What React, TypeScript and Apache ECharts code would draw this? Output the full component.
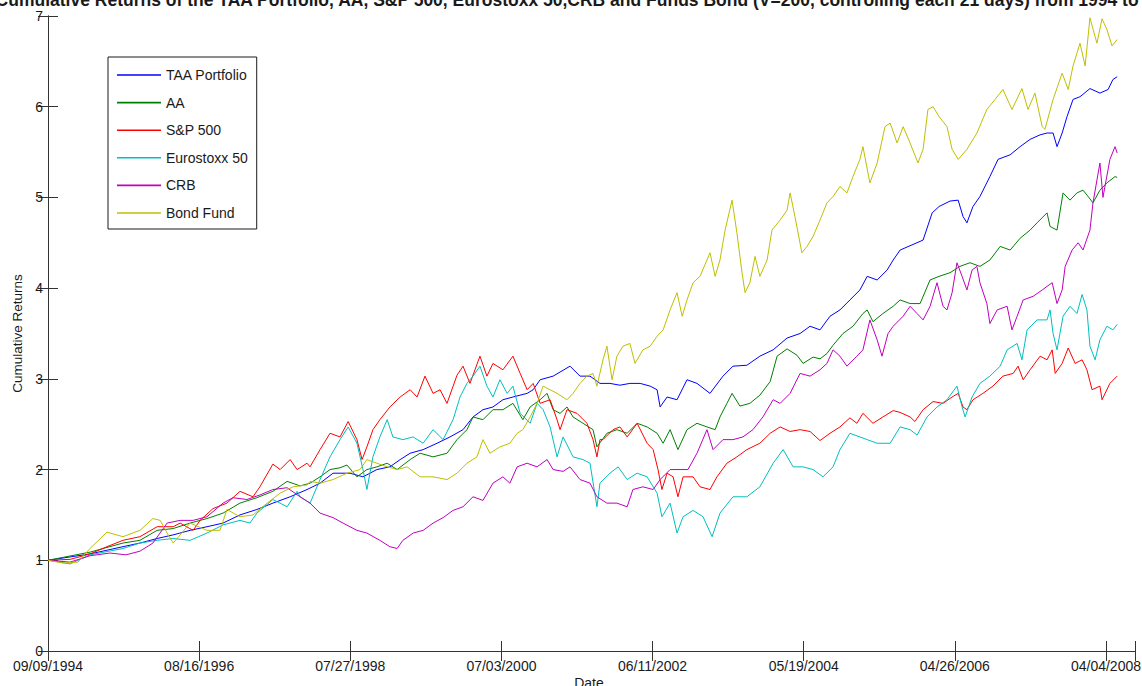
import React, { useEffect, useRef } from "react";
import * as echarts from "echarts";

// Trading-day index of each x tick and its date label
const TICK_STEP = 500;
const X_MAX = 3596;
const tickLabels = [
  "09/09/1994",
  "08/16/1996",
  "07/27/1998",
  "07/03/2000",
  "06/11/2002",
  "05/19/2004",
  "04/26/2006",
  "04/04/2008",
];

const seriesNames = ["TAA Portfolio", "AA", "S&P 500", "Eurostoxx 50", "CRB", "Bond Fund"];
const seriesColors = ["#0000ff", "#008000", "#ff0000", "#00bfbf", "#bf00bf", "#bfbf00"];

// [trading day, cumulative return]
const taaPortfolio = [
  [0, 1.0], [139, 1.07], [248, 1.15], [304, 1.19], [361, 1.24], [414, 1.28], [470, 1.33], [526, 1.37],
  [579, 1.41], [635, 1.5], [691, 1.56], [744, 1.63], [801, 1.7], [857, 1.78], [900, 1.85], [943, 1.96],
  [999, 1.96], [1042, 1.92], [1088, 2.0], [1131, 2.03], [1165, 2.11], [1198, 2.18], [1241, 2.22],
  [1287, 2.29], [1330, 2.36], [1373, 2.44], [1406, 2.58], [1439, 2.66], [1472, 2.69], [1505, 2.77],
  [1538, 2.8], [1585, 2.84], [1605, 2.88], [1628, 2.99], [1671, 3.03], [1727, 3.14], [1760, 3.03],
  [1793, 3.03], [1826, 2.95], [1859, 2.95], [1892, 2.93], [1925, 2.95], [1959, 2.95], [1992, 2.92],
  [2015, 2.88], [2025, 2.69], [2048, 2.8], [2081, 2.77], [2114, 2.99], [2147, 2.95], [2190, 2.84],
  [2233, 3.03], [2266, 3.14], [2312, 3.15], [2355, 3.25], [2399, 3.32], [2445, 3.45], [2488, 3.5],
  [2521, 3.58], [2554, 3.54], [2587, 3.69], [2620, 3.76], [2653, 3.87], [2686, 3.98], [2710, 4.13],
  [2743, 4.09], [2776, 4.2], [2796, 4.31], [2819, 4.42], [2895, 4.53], [2925, 4.83], [2948, 4.9],
  [2984, 4.96], [3011, 4.97], [3027, 4.79], [3040, 4.72], [3060, 4.9], [3083, 5.01], [3116, 5.23],
  [3143, 5.42], [3183, 5.47], [3216, 5.56], [3249, 5.64], [3282, 5.69], [3305, 5.71], [3325, 5.71],
  [3338, 5.56], [3355, 5.71], [3371, 5.89], [3391, 6.08], [3414, 6.11], [3447, 6.2], [3480, 6.15],
  [3507, 6.19], [3523, 6.3], [3537, 6.33],
];

const aa = [
  [0, 1.0], [139, 1.09], [248, 1.19], [304, 1.22], [361, 1.33], [414, 1.35], [470, 1.41], [526, 1.46],
  [579, 1.52], [635, 1.63], [691, 1.69], [744, 1.76], [791, 1.87], [834, 1.82], [867, 1.85], [900, 1.92],
  [933, 2.0], [966, 2.02], [989, 2.05], [1022, 1.92], [1055, 2.0], [1088, 2.03], [1122, 2.07],
  [1155, 2.0], [1198, 2.11], [1231, 2.18], [1274, 2.14], [1320, 2.18], [1353, 2.33], [1386, 2.44],
  [1406, 2.58], [1439, 2.55], [1472, 2.66], [1505, 2.66], [1538, 2.73], [1571, 2.55], [1595, 2.69],
  [1628, 2.77], [1651, 2.84], [1671, 2.66], [1694, 2.62], [1717, 2.69], [1737, 2.58], [1770, 2.51],
  [1803, 2.44], [1816, 2.25], [1849, 2.4], [1882, 2.44], [1916, 2.4], [1949, 2.51], [1982, 2.47],
  [2015, 2.4], [2035, 2.29], [2058, 2.44], [2084, 2.22], [2114, 2.44], [2147, 2.51], [2180, 2.47],
  [2207, 2.44], [2223, 2.58], [2246, 2.73], [2263, 2.84], [2289, 2.7], [2322, 2.73], [2355, 2.82],
  [2389, 2.97], [2412, 3.25], [2445, 3.33], [2478, 3.26], [2498, 3.17], [2531, 3.24], [2554, 3.22],
  [2577, 3.28], [2597, 3.37], [2630, 3.5], [2663, 3.58], [2696, 3.72], [2710, 3.76], [2729, 3.63],
  [2762, 3.72], [2796, 3.8], [2819, 3.87], [2852, 3.83], [2885, 3.83], [2918, 4.09], [2948, 4.13],
  [2984, 4.17], [3017, 4.24], [3050, 4.28], [3083, 4.24], [3116, 4.31], [3150, 4.46], [3183, 4.42],
  [3216, 4.55], [3249, 4.64], [3272, 4.72], [3305, 4.83], [3315, 4.68], [3338, 4.64], [3358, 5.05],
  [3381, 4.97], [3404, 5.05], [3424, 5.08], [3441, 5.01], [3457, 4.94], [3480, 5.08], [3503, 5.16],
  [3530, 5.23], [3537, 5.22],
];

const sp500 = [
  [0, 1.0], [73, 1.01], [139, 1.07], [195, 1.15], [248, 1.22], [304, 1.26], [361, 1.37], [414, 1.37],
  [437, 1.41], [480, 1.33], [503, 1.44], [546, 1.57], [592, 1.63], [635, 1.76], [678, 1.7], [701, 1.81],
  [744, 2.06], [768, 2.0], [801, 2.11], [824, 2.0], [857, 2.07], [867, 2.03], [900, 2.22], [933, 2.4],
  [966, 2.36], [993, 2.53], [1022, 2.33], [1039, 2.11], [1055, 2.25], [1075, 2.44], [1098, 2.55],
  [1131, 2.69], [1165, 2.8], [1198, 2.88], [1221, 2.8], [1247, 3.03], [1274, 2.84], [1297, 2.88],
  [1320, 2.73], [1353, 3.04], [1373, 3.14], [1396, 2.95], [1429, 3.25], [1452, 3.03], [1472, 3.17],
  [1505, 3.1], [1538, 3.25], [1562, 3.06], [1585, 2.88], [1605, 2.95], [1628, 2.73], [1661, 2.77],
  [1684, 2.55], [1694, 2.44], [1717, 2.66], [1750, 2.62], [1783, 2.51], [1803, 2.33], [1816, 2.14],
  [1826, 2.33], [1836, 2.33], [1869, 2.44], [1892, 2.47], [1916, 2.36], [1949, 2.51], [1982, 2.29],
  [2002, 2.22], [2018, 2.0], [2031, 1.78], [2048, 1.96], [2068, 1.92], [2084, 1.7], [2101, 1.92],
  [2134, 1.92], [2157, 1.81], [2190, 1.78], [2213, 1.92], [2246, 2.07], [2279, 2.14], [2312, 2.22],
  [2355, 2.29], [2389, 2.4], [2422, 2.47], [2455, 2.42], [2488, 2.44], [2521, 2.42], [2554, 2.32],
  [2587, 2.4], [2620, 2.47], [2653, 2.57], [2676, 2.51], [2696, 2.62], [2729, 2.51], [2762, 2.58],
  [2796, 2.65], [2819, 2.63], [2852, 2.58], [2868, 2.53], [2895, 2.66], [2928, 2.75], [2961, 2.73],
  [2991, 2.8], [3011, 2.84], [3027, 2.69], [3040, 2.66], [3060, 2.77], [3093, 2.84], [3126, 2.92],
  [3159, 3.03], [3193, 3.06], [3209, 3.14], [3226, 2.99], [3249, 3.1], [3282, 3.25], [3305, 3.21],
  [3322, 3.32], [3332, 3.06], [3355, 3.17], [3375, 3.34], [3398, 3.17], [3421, 3.21], [3437, 3.1],
  [3454, 2.88], [3480, 2.92], [3487, 2.77], [3513, 2.95], [3537, 3.03],
];

const eurostoxx50 = [
  [0, 1.0], [73, 0.96], [139, 1.06], [248, 1.13], [304, 1.19], [361, 1.22], [414, 1.24], [470, 1.22],
  [526, 1.3], [579, 1.39], [635, 1.44], [668, 1.41], [691, 1.52], [744, 1.67], [791, 1.59], [824, 1.76],
  [834, 1.7], [867, 1.63], [900, 1.89], [933, 2.14], [966, 2.33], [993, 2.47], [1022, 2.29],
  [1042, 2.0], [1055, 1.78], [1075, 2.14], [1098, 2.36], [1122, 2.55], [1141, 2.36], [1174, 2.33],
  [1208, 2.36], [1241, 2.29], [1274, 2.44], [1307, 2.33], [1340, 2.55], [1363, 2.8], [1386, 2.95],
  [1406, 3.03], [1429, 3.14], [1452, 2.92], [1472, 2.8], [1495, 2.99], [1519, 2.84], [1538, 2.92],
  [1562, 2.62], [1595, 2.51], [1618, 2.73], [1638, 2.66], [1661, 2.47], [1684, 2.14], [1704, 2.36],
  [1737, 2.14], [1770, 2.11], [1793, 2.07], [1816, 1.59], [1826, 1.85], [1859, 1.96], [1886, 2.03],
  [1916, 1.89], [1949, 1.96], [1982, 1.92], [2015, 1.74], [2031, 1.48], [2058, 1.63], [2081, 1.3],
  [2101, 1.48], [2134, 1.55], [2167, 1.48], [2197, 1.26], [2223, 1.52], [2266, 1.7], [2312, 1.7],
  [2355, 1.81], [2399, 2.07], [2432, 2.22], [2465, 2.03], [2498, 2.03], [2531, 2.0], [2564, 1.92],
  [2597, 2.03], [2620, 2.22], [2653, 2.4], [2710, 2.33], [2743, 2.29], [2786, 2.29], [2819, 2.47],
  [2852, 2.44], [2875, 2.38], [2908, 2.58], [2941, 2.69], [2974, 2.77], [3007, 2.92], [3024, 2.69],
  [3034, 2.58], [3057, 2.8], [3083, 2.95], [3116, 3.03], [3150, 3.14], [3173, 3.32], [3206, 3.39],
  [3222, 3.21], [3239, 3.54], [3272, 3.65], [3305, 3.65], [3315, 3.76], [3325, 3.5], [3338, 3.32],
  [3358, 3.69], [3381, 3.8], [3404, 3.72], [3421, 3.93], [3437, 3.76], [3447, 3.36], [3464, 3.21],
  [3480, 3.43], [3503, 3.58], [3523, 3.54], [3537, 3.6],
];

const crb = [
  [0, 1.0], [73, 0.98], [139, 1.05], [205, 1.08], [258, 1.06], [304, 1.1], [347, 1.19], [394, 1.41],
  [437, 1.44], [480, 1.44], [526, 1.48], [579, 1.63], [612, 1.69], [658, 1.67], [701, 1.72],
  [744, 1.78], [791, 1.8], [834, 1.7], [867, 1.63], [900, 1.52], [943, 1.47], [976, 1.41], [1022, 1.33],
  [1055, 1.3], [1098, 1.22], [1131, 1.15], [1155, 1.13], [1174, 1.22], [1208, 1.3], [1241, 1.33],
  [1274, 1.41], [1307, 1.47], [1340, 1.55], [1373, 1.59], [1406, 1.7], [1439, 1.66], [1472, 1.85],
  [1505, 1.92], [1528, 1.85], [1552, 2.03], [1585, 2.07], [1618, 2.03], [1651, 2.11], [1671, 2.0],
  [1704, 1.98], [1727, 2.03], [1760, 1.89], [1793, 1.85], [1816, 1.7], [1849, 1.63], [1882, 1.63],
  [1916, 1.59], [1935, 1.78], [1968, 1.81], [2002, 1.78], [2025, 1.89], [2058, 2.0], [2091, 2.0],
  [2117, 2.0], [2147, 2.18], [2180, 2.44], [2200, 2.22], [2233, 2.33], [2266, 2.33], [2299, 2.36],
  [2332, 2.44], [2365, 2.58], [2399, 2.77], [2422, 2.73], [2455, 2.84], [2488, 3.06], [2521, 3.03],
  [2554, 3.1], [2577, 3.17], [2597, 3.32], [2620, 3.25], [2643, 3.14], [2676, 3.25], [2696, 3.32],
  [2719, 3.65], [2743, 3.43], [2759, 3.25], [2779, 3.5], [2796, 3.58], [2829, 3.69], [2852, 3.8],
  [2875, 3.72], [2895, 3.65], [2918, 3.8], [2941, 4.06], [2961, 3.8], [2974, 3.76], [2991, 3.95],
  [3007, 4.28], [3024, 4.13], [3040, 3.98], [3057, 4.2], [3073, 4.24], [3083, 4.06], [3106, 3.83],
  [3116, 3.61], [3140, 3.76], [3173, 3.8], [3189, 3.54], [3206, 3.69], [3226, 3.87], [3259, 3.91],
  [3289, 3.98], [3322, 4.06], [3338, 3.83], [3355, 3.98], [3365, 4.24], [3388, 4.42], [3408, 4.5],
  [3424, 4.42], [3447, 4.64], [3457, 4.94], [3480, 5.38], [3490, 5.0], [3513, 5.42], [3530, 5.56],
  [3537, 5.49],
];

const bondFund = [
  [0, 1.0], [50, 0.97], [99, 0.98], [139, 1.13], [195, 1.31], [248, 1.26], [304, 1.33], [347, 1.46],
  [371, 1.44], [394, 1.3], [414, 1.19], [437, 1.28], [470, 1.41], [526, 1.33], [569, 1.33], [592, 1.56],
  [635, 1.48], [678, 1.5], [725, 1.63], [768, 1.74], [811, 1.81], [857, 1.83], [867, 1.87], [900, 1.85],
  [943, 1.89], [989, 1.96], [1032, 2.0], [1055, 2.11], [1088, 2.07], [1122, 2.03], [1155, 2.0],
  [1188, 2.03], [1231, 1.92], [1274, 1.92], [1320, 1.89], [1353, 1.96], [1386, 2.07], [1419, 2.14],
  [1439, 2.33], [1462, 2.18], [1495, 2.25], [1528, 2.29], [1552, 2.4], [1571, 2.44], [1595, 2.58],
  [1618, 2.73], [1638, 2.92], [1661, 2.88], [1684, 2.84], [1717, 2.77], [1737, 2.84], [1760, 2.95],
  [1783, 3.03], [1803, 3.06], [1816, 2.92], [1836, 3.21], [1849, 3.36], [1866, 2.99], [1882, 3.25],
  [1902, 3.36], [1925, 3.39], [1942, 3.17], [1968, 3.32], [1992, 3.36], [2015, 3.47], [2035, 3.54],
  [2058, 3.76], [2081, 3.95], [2098, 3.69], [2114, 3.87], [2134, 4.06], [2157, 4.13], [2190, 4.39],
  [2207, 4.13], [2223, 4.31], [2240, 4.64], [2263, 4.97], [2279, 4.61], [2296, 4.17], [2306, 3.95],
  [2322, 4.06], [2339, 4.35], [2355, 4.13], [2379, 4.31], [2395, 4.64], [2422, 4.75], [2445, 4.86],
  [2455, 5.05], [2471, 4.79], [2494, 4.39], [2511, 4.46], [2531, 4.57], [2554, 4.75], [2577, 4.94],
  [2597, 5.01], [2620, 5.12], [2643, 5.05], [2663, 5.23], [2686, 5.42], [2696, 5.56], [2719, 5.16],
  [2743, 5.38], [2769, 5.78], [2786, 5.82], [2809, 5.6], [2829, 5.78], [2852, 5.6], [2878, 5.38],
  [2895, 5.53], [2911, 5.97], [2928, 6.0], [2948, 5.89], [2974, 5.78], [2991, 5.53], [3011, 5.42],
  [3040, 5.53], [3073, 5.71], [3106, 5.97], [3133, 6.08], [3159, 6.19], [3189, 5.97], [3222, 6.2],
  [3242, 5.97], [3265, 6.15], [3289, 5.78], [3298, 5.75], [3325, 6.08], [3355, 6.37], [3375, 6.19],
  [3391, 6.45], [3414, 6.7], [3431, 6.45], [3447, 6.98], [3470, 6.7], [3487, 6.97], [3503, 6.85],
  [3520, 6.67], [3537, 6.74],
];

const seriesData = [taaPortfolio, aa, sp500, eurostoxx50, crb, bondFund];

const TITLE =
  "Cumulative Returns of the TAA Portfolio, AA, S&P 500, Eurostoxx 50,CRB and Funds Bond (V=200, controlling each 21 days) from 1994 to 2008";
const X_NAME = "Date";
const Y_NAME = "Cumulative Returns";

const AXIS_COLOR = "#333333";
const TEXT_COLOR = "#1a1a1a";
const FONT = "Liberation Sans, Arial, Helvetica, sans-serif";

export default function App() {
  const ref = useRef<HTMLDivElement>(null);

  useEffect(() => {
    if (!ref.current) return;
    const chart = echarts.init(ref.current, null, { renderer: "svg" });

    const boxAxisX = {
      type: "value",
      min: 0,
      max: X_MAX,
      interval: TICK_STEP,
      splitLine: { show: false },
      axisLine: { show: true, lineStyle: { color: AXIS_COLOR, width: 1 } },
      axisTick: { show: true, inside: true, length: 10, lineStyle: { color: AXIS_COLOR } },
    };
    const boxAxisY = {
      type: "value",
      min: 0,
      max: 7,
      interval: 1,
      splitLine: { show: false },
      axisLine: { show: true, lineStyle: { color: AXIS_COLOR, width: 1 } },
      axisTick: { show: true, inside: true, length: 10, lineStyle: { color: AXIS_COLOR } },
    };

    chart.setOption({
      animation: false,
      backgroundColor: "#ffffff",
      textStyle: { fontFamily: FONT },
      grid: {
        left: 48,
        right: 7,
        top: 16,
        bottom: 35,
        containLabel: false,
        outerBoundsMode: "none",
      },
      graphic: [
        {
          type: "text",
          x: 589,
          y: -0.5,
          silent: true,
          style: {
            text: TITLE,
            fill: TEXT_COLOR,
            font: `bold 17.5px ${FONT}`,
            align: "center",
            verticalAlign: "middle",
          },
        },
        {
          type: "text",
          x: 589,
          y: 676,
          silent: true,
          style: {
            text: X_NAME,
            fill: TEXT_COLOR,
            font: `14px ${FONT}`,
            align: "center",
            verticalAlign: "top",
          },
        },
      ],
      legend: {
        orient: "vertical",
        left: 108,
        top: 57,
        padding: [11, 9, 9, 9],
        itemGap: 13.6,
        itemWidth: 44,
        itemHeight: 1.6,
        icon: "rect",
        borderColor: "#1a1a1a",
        borderWidth: 1,
        backgroundColor: "#ffffff",
        textStyle: { fontSize: 14, lineHeight: 14, color: TEXT_COLOR, fontFamily: FONT },
        data: seriesNames,
      },
      xAxis: [
        {
          ...boxAxisX,
          position: "bottom",
          axisLabel: {
            fontSize: 14,
            color: TEXT_COLOR,
            margin: 8,
            fontFamily: FONT,
            formatter: (v: number) => (v % TICK_STEP === 0 ? tickLabels[v / TICK_STEP] ?? "" : ""),
          },
        },
        { ...boxAxisX, position: "top", axisLabel: { show: false } },
      ],
      yAxis: [
        {
          ...boxAxisY,
          position: "left",
          name: Y_NAME,
          nameLocation: "middle",
          nameGap: 22,
          nameTextStyle: { fontSize: 13.5, color: TEXT_COLOR, fontFamily: FONT },
          axisLabel: { fontSize: 14, color: TEXT_COLOR, margin: 5, fontFamily: FONT },
        },
        { ...boxAxisY, position: "right", axisLabel: { show: false } },
      ],
      series: seriesNames.map((name, i) => ({
        name,
        type: "line",
        xAxisIndex: 0,
        yAxisIndex: 0,
        data: seriesData[i],
        symbol: "none",
        showSymbol: false,
        color: seriesColors[i],
        itemStyle: { color: seriesColors[i] },
        lineStyle: { color: seriesColors[i], width: 1 },
        clip: true,
      })),
    });

    return () => chart.dispose();
  }, []);

  return (
    <div
      ref={ref}
      style={{ position: "absolute", left: 0, top: 0, width: 1142, height: 686, background: "#fff" }}
    />
  );
}
